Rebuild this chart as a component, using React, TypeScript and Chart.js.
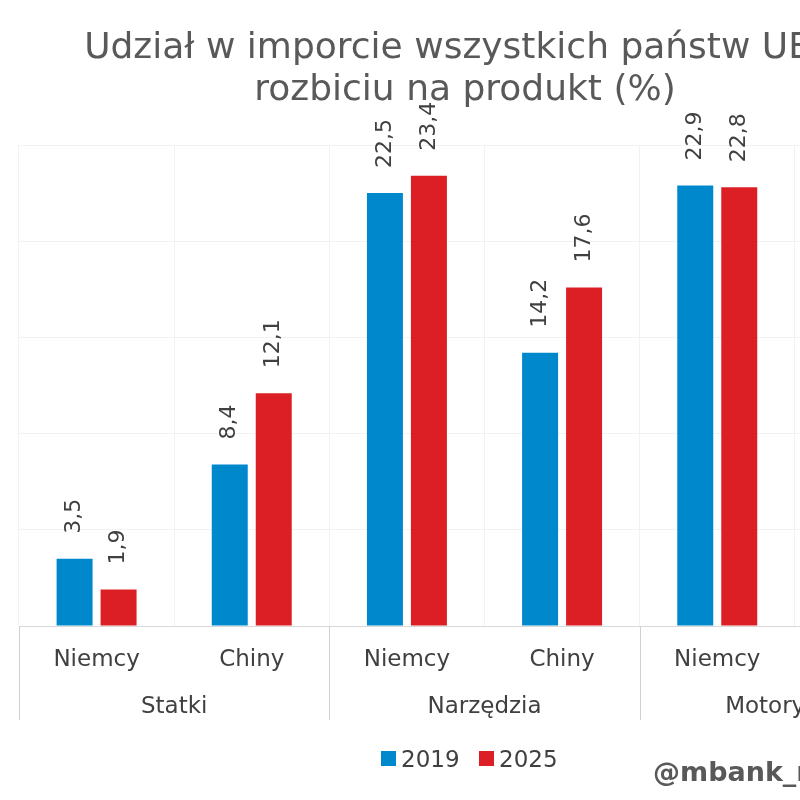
import React, { useEffect, useRef } from "react";
import { Chart, registerables } from "chart.js";

Chart.register(...registerables);

const subCategories = ["Niemcy", "Chiny", "Niemcy", "Chiny", "Niemcy", "Chiny"];
const groups = ["Statki", "Narzędzia", "Motoryzacja"];
const values2019 = [3.5, 8.4, 22.5, 14.2, 22.9, 10.5];
const values2025 = [1.9, 12.1, 23.4, 17.6, 22.8, 14.0];
const seriesNames = ["2019", "2025"];
const titleLines = ["Udział w imporcie wszystkich państw UE w", "rozbiciu na produkt (%)"];
const watermark = "@mbank_research";

const BLUE = "#0088cc";
const RED = "#db1f24";
const TEXT = "#404040";
const FONT = "'DejaVu Sans', Verdana, sans-serif";

const extrasPlugin = {
  id: "extras",
  afterDatasetsDraw(chart: any) {
    const ctx = chart.ctx;
    ctx.save();
    ctx.fillStyle = TEXT;
    ctx.font = `22px ${FONT}`;
    ctx.textAlign = "left";
    ctx.textBaseline = "middle";
    chart.data.datasets.forEach((ds: any, di: number) => {
      const meta = chart.getDatasetMeta(di);
      meta.data.forEach((bar: any, i: number) => {
        const v = ds.data[i];
        const txt = v.toFixed(1).replace(".", ",");
        ctx.save();
        ctx.translate(bar.x, bar.y - 25);
        ctx.rotate(-Math.PI / 2);
        ctx.fillText(txt, 0, 0);
        ctx.restore();
      });
    });
    ctx.restore();
  },
  afterDraw(chart: any) {
    const ctx = chart.ctx;
    const area = chart.chartArea;
    const xs = chart.scales.x;
    ctx.save();
    ctx.strokeStyle = "#d0d0d0";
    ctx.lineWidth = 1;
    const gw = (area.right - area.left) / groups.length;
    for (let k = 0; k <= groups.length; k++) {
      const x = Math.round(area.left + k * gw) + 0.5;
      ctx.beginPath();
      ctx.moveTo(x, area.bottom);
      ctx.lineTo(x, xs.bottom);
      ctx.stroke();
    }
    ctx.fillStyle = TEXT;
    ctx.font = `23px ${FONT}`;
    ctx.textAlign = "center";
    ctx.textBaseline = "alphabetic";
    groups.forEach((g, k) => {
      ctx.fillText(g, area.left + (k + 0.5) * gw, 713);
    });
    ctx.fillStyle = "#595959";
    ctx.font = `36px ${FONT}`;
    ctx.fillText(titleLines[0], 468, 58);
    ctx.fillText(titleLines[1], 465, 100);
    ctx.font = `23px ${FONT}`;
    ctx.textAlign = "left";
    const legendItems = [
      { x: 381, color: BLUE, label: seriesNames[0] },
      { x: 479, color: RED, label: seriesNames[1] },
    ];
    legendItems.forEach((it) => {
      ctx.fillStyle = it.color;
      ctx.fillRect(it.x, 751, 15, 15);
      ctx.fillStyle = TEXT;
      ctx.fillText(it.label, it.x + 20, 767);
    });
    ctx.fillStyle = "#595959";
    ctx.font = `bold 27px ${FONT}`;
    ctx.fillText(watermark, 653, 781);
    ctx.restore();
  },
};

export default function App() {
  const ref = useRef<HTMLCanvasElement>(null);
  useEffect(() => {
    if (!ref.current) return;
    const chart = new Chart(ref.current, {
      type: "bar",
      data: {
        labels: subCategories,
        datasets: [
          {
            label: seriesNames[0],
            data: values2019,
            backgroundColor: BLUE,
            categoryPercentage: 0.567,
            barPercentage: 0.818,
          },
          {
            label: seriesNames[1],
            data: values2025,
            backgroundColor: RED,
            categoryPercentage: 0.567,
            barPercentage: 0.818,
          },
        ],
      },
      options: {
        responsive: false,
        animation: false,
        layout: { padding: { left: 19, right: 20, top: 145, bottom: 80 } },
        plugins: {
          legend: { display: false },
          title: { display: false },
          tooltip: { enabled: false },
        },
        scales: {
          x: {
            grid: { color: "#f2f2f2", offset: true, drawTicks: false },
            border: { display: true, color: "#d9d9d9", width: 1 },
            ticks: {
              color: TEXT,
              font: { family: FONT, size: 23 },
              padding: 20,
              maxRotation: 0,
              autoSkip: false,
            },
            afterFit: (s: any) => {
              s.height = 94;
            },
          },
          y: {
            min: 0,
            max: 25,
            ticks: { display: false, stepSize: 5 },
            grid: { color: "#f2f2f2", drawTicks: false },
            border: { display: false },
            afterFit: (s: any) => {
              s.width = 0;
            },
          },
        },
      },
      plugins: [extrasPlugin],
    });
    return () => chart.destroy();
  }, []);
  return (
    <div style={{ position: "fixed", left: 0, top: 0, width: 970, height: 800, background: "#fff" }}>
      <canvas ref={ref} width={970} height={800} />
    </div>
  );
}
